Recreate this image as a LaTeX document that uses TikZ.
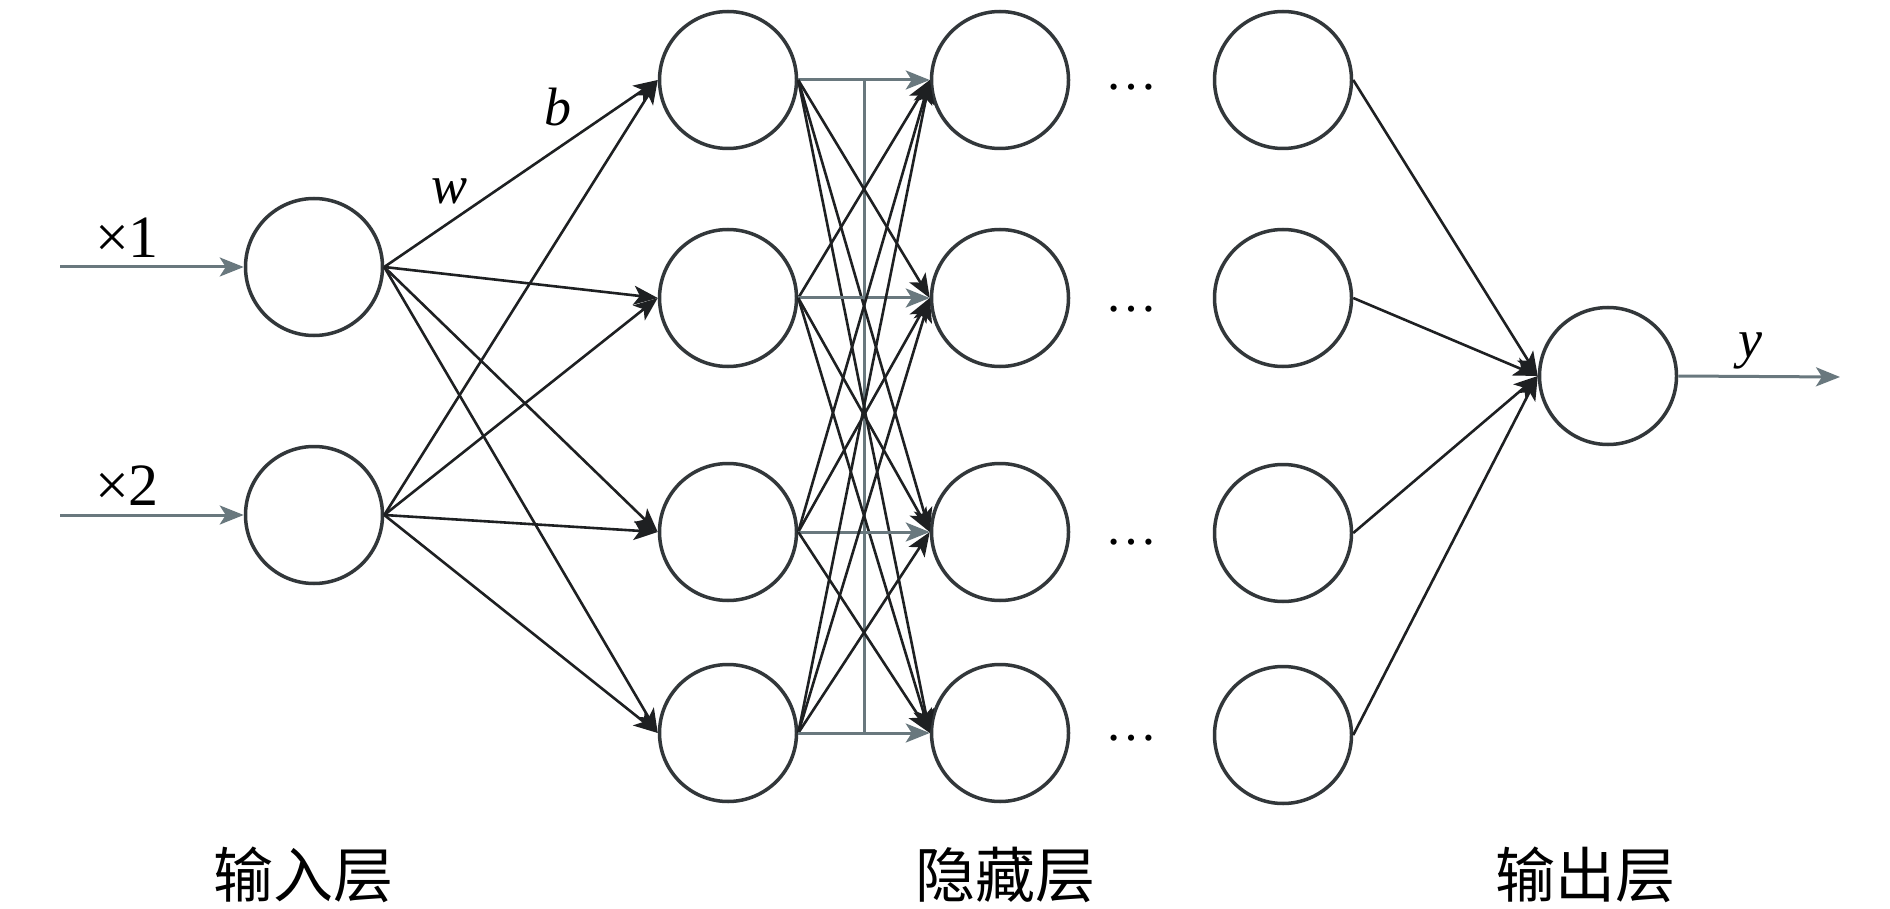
\documentclass[tikz,border=0pt]{standalone}
\usepackage{fontspec}
\setmainfont{Liberation Serif}
\newfontfamily\tnr{Liberation Serif}
\newfontfamily\cjk{Noto Sans CJK SC}
\usetikzlibrary{arrows.meta,calc}
\definecolor{circc}{RGB}{50,55,58}
\definecolor{linkc}{RGB}{30,32,34}
\definecolor{horc}{RGB}{105,120,126}
\begin{document}
\begin{tikzpicture}[x=1pt,y=-1pt,
  neuron/.style={circle, draw=circc, line width=3.5pt, minimum size=137pt, inner sep=0pt},
  link/.style={draw=linkc, line width=2.6pt, -{Stealth[length=24pt,width=19pt,inset=6pt]}},
  hlink/.style={link, draw=horc, line width=3pt},
  vline/.style={draw=horc, line width=3pt},
  lat/.style={font=\tnr\fontsize{60}{60}\selectfont, inner sep=0pt, anchor=base},
  ital/.style={font=\tnr\fontsize{54}{54}\selectfont\itshape, inner sep=0pt, anchor=base},
  cn/.style={font=\cjk\fontsize{60}{60}\selectfont, inner sep=0pt},
  dots/.style={font=\tnr\fontsize{52}{52}\selectfont, inner sep=0pt, anchor=base}]
\useasboundingbox (0,0) rectangle (1890,909);
\fill[white] (0,0) rectangle (1890,909);

% input layer
\node[neuron] (i1) at (314,267) {};
\node[neuron] (i2) at (314,515) {};
% hidden layers 1 and 2
\foreach \k/\yy in {1/80,2/298,3/532,4/733}{
  \node[neuron] (a\k) at (728,\yy) {};
  \node[neuron] (b\k) at (1000,\yy) {};
}
% last hidden layer
\node[neuron] (c1) at (1283,80) {};
\node[neuron] (c2) at (1283,298) {};
\node[neuron] (c3) at (1283,533) {};
\node[neuron] (c4) at (1283,735) {};
% output
\node[neuron] (o) at (1608,376) {};

% inputs
\coordinate (x1s) at (60,267);
\coordinate (x2s) at (60,515);
\draw[link, draw=horc, line width=3pt] (x1s) -- (i1.west);
\draw[link, draw=horc, line width=3pt] (x2s) -- (i2.west);
\node[lat] (lx1) at (127,258) {×1};
\node[lat] (lx2) at (127,505) {×2};

% input -> hidden1
\foreach \i in {1,2}{
  \foreach \k in {1,2,3,4}{
    \draw[link] (i\i.east) -- (a\k.west);
  }
}
\node[ital] (lw) at (450,204) {w};
\node[ital] (lb) at (558,126) {b};

% hidden1 -> hidden2
\draw[vline] ($(a1.east)!0.5!(b1.west)$) -- ($(a4.east)!0.5!(b4.west)$);
\foreach \i in {1,2,3,4}{
  \foreach \k in {1,2,3,4}{
    \ifnum\i=\k
      \draw[hlink] (a\i.east) -- (b\k.west);
    \else
      \draw[link] (a\i.east) -- (b\k.west);
    \fi
  }
}

% dots
\node[dots] (d1) at (1131,90) {…};
\node[dots] (d2) at (1131,312) {…};
\node[dots] (d3) at (1131,544) {…};
\node[dots] (d4) at (1131,740) {…};

% last hidden -> output
\foreach \k in {1,2,3,4}{
  \draw[link] (c\k.east) -- (o.west);
}
\coordinate (yend) at (1840,377);
\draw[link, draw=horc, line width=3pt] (o.east) -- (yend);
\node[ital] (ly) at (1750,357) {y};

% layer labels
\node[cn] (t1) at (303,875) {输入层};
\node[cn] (t2) at (1005,875) {隐藏层};
\node[cn] (t3) at (1585,875) {输出层};
\end{tikzpicture}
\end{document}
